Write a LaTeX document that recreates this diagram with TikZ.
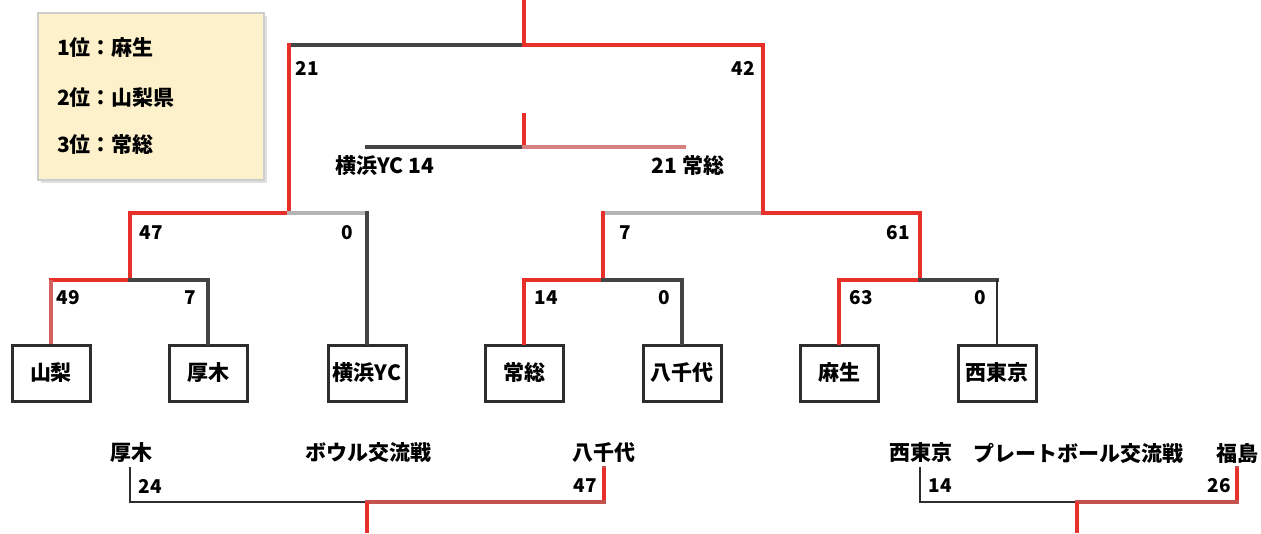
\documentclass[tikz,border=0pt]{standalone}
\usepackage{fontspec}
\setmainfont{Noto Sans CJK JP}
\definecolor{winred}{RGB}{232,48,42}
\definecolor{darkg}{RGB}{68,68,68}
\definecolor{boxg}{RGB}{45,45,45}
\definecolor{lightg}{RGB}{180,180,180}
\definecolor{pinka}{RGB}{214,128,128}
\definecolor{pinkb}{RGB}{197,82,78}
\definecolor{pinkc}{RGB}{212,96,96}
\definecolor{legfill}{RGB}{253,241,204}
\definecolor{legline}{RGB}{205,205,205}
\newcommand{\lbl}{\fontsize{21}{23}\selectfont\bfseries}
\newcommand{\num}{\fontsize{19}{21}\selectfont\bfseries}
\begin{document}
\begin{tikzpicture}[x=1pt,y=-1pt,
  win/.style={draw=winred,line width=3.2pt,line cap=rect},
  lose/.style={draw=darkg,line width=3.2pt,line cap=rect},
  thin/.style={draw=boxg,line width=2.4pt,line cap=rect},
  lgray/.style={draw=lightg,line width=3.2pt,line cap=rect},
  pinkline/.style={draw=pinka,line width=3.2pt,line cap=rect},
  bowlred/.style={draw=pinkb,line width=3.2pt,line cap=rect},
  team/.style={draw=boxg,line width=3pt,minimum width=78pt,minimum height=56pt,inner sep=0pt,font=\lbl,fill=white},
  score/.style={font=\num,inner sep=0pt},
  jtext/.style={font=\lbl,inner sep=0pt},
  legtext/.style={font=\lbl,inner sep=0pt,anchor=west}]
\path[use as bounding box] (0,0) rectangle (1261,533);
\fill[white] (0,0) rectangle (1261,533);

% legend
\fill[black!12] (41,16) rectangle (267,183);
\node[draw=legline,fill=legfill,line width=1.5pt,minimum width=226pt,minimum height=167pt,inner sep=0pt] (legend) at (151,96.5) {};
\node[legtext] (l1) at (57,48) {1位：麻生};
\node[legtext] (l2) at (57,98) {2位：山梨県};
\node[legtext] (l3) at (57,145) {3位：常総};

% coordinates
\coordinate (top) at (524,0);
\coordinate (F) at (524,45);
\coordinate (FL) at (289,45);
\coordinate (FR) at (763,45);
\coordinate (SL) at (289,213);
\coordinate (SR) at (763,213);
\coordinate (SLa) at (130,213);
\coordinate (SLb) at (367,213);
\coordinate (QL) at (130,280);
\coordinate (QLa) at (51,280);
\coordinate (QLb) at (208,280);
\coordinate (SRa) at (603,213);
\coordinate (SRb) at (920,213);
\coordinate (QR1) at (603,280);
\coordinate (QR1a) at (524,280);
\coordinate (QR1b) at (682,280);
\coordinate (QR2) at (920,280);
\coordinate (QR2a) at (839,280);
\coordinate (QR2b) at (997,280);

% teams
\node[team] (t1) at (51,373) {山梨};
\node[team] (t2) at (208,373) {厚木};
\node[team] (t3) at (367,373) {横浜YC};
\node[team] (t4) at (524,373) {常総};
\node[team] (t5) at (682,373) {八千代};
\node[team] (t6) at (839,373) {麻生};
\node[team] (t7) at (997,373) {西東京};

% final
\draw[win] (top) -- (F);
\draw[lose] (FL) -- (F);
\draw[win] (F) -- (FR);
\draw[win] (FL) -- (SL);
\draw[win] (FR) -- (SR);
\node[score] (s21) at (307,68) {21};
\node[score] (s42) at (743,68) {42};

% left semi
\draw[win] (SLa) -- (SL);
\draw[lgray] (SL) -- (SLb);
\draw[win] (SLa) -- (QL);
\draw[lose] (SLb) -- (t3.north);
\node[score] (s47) at (151,233) {47};
\node[score] (s0a) at (347,233) {0};

% left quarter
\draw[win] (QLa) -- (QL);
\draw[lose] (QL) -- (QLb);
\draw[draw=pinkc,line width=3.2pt] (QLa) -- (t1.north);
\draw[lose] (QLb) -- (t2.north);
\node[score] (s49) at (68,298) {49};
\node[score] (s7a) at (190,298) {7};

% right semi
\draw[lgray] (SRa) -- (SR);
\draw[win] (SR) -- (SRb);
\draw[win] (SRa) -- (QR1);
\draw[win] (SRb) -- (QR2);
\node[score] (s7b) at (625,233) {7};
\node[score] (s61) at (898,233) {61};

% right quarters
\draw[win] (QR1a) -- (QR1);
\draw[lose] (QR1) -- (QR1b);
\draw[win] (QR1a) -- (t4.north);
\draw[lose] (QR1b) -- (t5.north);
\node[score] (s14) at (546,298) {14};
\node[score] (s0b) at (664,298) {0};
\draw[win] (QR2a) -- (QR2);
\draw[lose] (QR2) -- (QR2b);
\draw[win] (QR2a) -- (t6.north);
\draw[thin] (QR2b) -- (t7.north);
\node[score] (s63) at (861,298) {63};
\node[score] (s0c) at (980,298) {0};

% third place
\coordinate (T) at (524,147);
\coordinate (Ttop) at (524,115);
\coordinate (Tl) at (367,147);
\coordinate (Tr) at (684,147);
\draw[win] (Ttop) -- (T);
\draw[lose] (Tl) -- (T);
\draw[pinkline] (T) -- (Tr);
\node[jtext] (th1) at (385,166) {横浜YC 14};
\node[jtext] (th2) at (688,166) {21 常総};

% bowl
\node[jtext] (b1) at (131,453) {厚木};
\node[jtext] (bt) at (368,453) {ボウル交流戦};
\node[jtext] (b2) at (604,453) {八千代};
\coordinate (b1s) at (130,468);
\coordinate (b2s) at (604,468);
\coordinate (B) at (367,502);
\coordinate (Bd) at (367,533);
\draw[thin] (b1s) |- (B);
\draw[bowlred] (B) -| (b2s);
\draw[draw=winred,line width=3.2pt] (b2s) -- (604,500);
\draw[draw=winred,line width=3.2pt] (B) -- (Bd);
\node[score] (s24) at (150,486) {24};
\node[score] (s47b) at (585,486) {47};

% plate
\node[jtext] (p1) at (921,453) {西東京};
\node[jtext] (pt) at (1078,453) {プレートボール交流戦};
\node[jtext] (p2) at (1237,453) {福島};
\coordinate (p1s) at (920,468);
\coordinate (p2s) at (1237,468);
\coordinate (P) at (1077,502);
\coordinate (Pd) at (1077,533);
\draw[thin] (p1s) |- (P);
\draw[bowlred] (P) -| (p2s);
\draw[draw=winred,line width=3.2pt] (p2s) -- (1237,500);
\draw[draw=winred,line width=3.2pt] (P) -- (Pd);
\node[score] (s14b) at (940,486) {14};
\node[score] (s26) at (1219,486) {26};
\end{tikzpicture}
\end{document}
